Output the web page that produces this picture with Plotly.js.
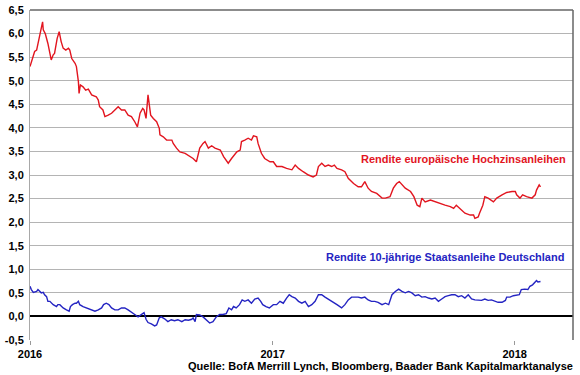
<!DOCTYPE html>
<html>
<head>
<meta charset="utf-8">
<script src="https://cdn.plot.ly/plotly-3.0.1.min.js"></script>
<style>html,body{margin:0;padding:0;background:#fff}#chart{width:580px;height:375px}</style>
</head>
<body>
<div id="chart"></div>
<script>
// Rendite europäische Hochzinsanleihen (%)
const hyDates = ['2016-01-01','2016-01-06','2016-01-08','2016-01-11','2016-01-13','2016-01-16','2016-01-20','2016-01-21','2016-01-24','2016-01-28','2016-01-31','2016-02-02','2016-02-05','2016-02-07','2016-02-11','2016-02-14','2016-02-17','2016-02-20','2016-02-24','2016-02-28','2016-03-01','2016-03-04','2016-03-09','2016-03-11','2016-03-14','2016-03-15','2016-03-17','2016-03-21','2016-03-25','2016-03-29','2016-04-03','2016-04-10','2016-04-13','2016-04-15','2016-04-20','2016-04-23','2016-04-28','2016-05-03','2016-05-08','2016-05-13','2016-05-18','2016-05-23','2016-05-28','2016-06-02','2016-06-07','2016-06-11','2016-06-15','2016-06-19','2016-06-21','2016-06-24','2016-06-27','2016-07-01','2016-07-05','2016-07-10','2016-07-14','2016-07-15','2016-07-20','2016-07-25','2016-08-02','2016-08-04','2016-08-09','2016-08-14','2016-08-22','2016-08-29','2016-09-03','2016-09-08','2016-09-13','2016-09-18','2016-09-21','2016-09-26','2016-10-01','2016-10-06','2016-10-14','2016-10-19','2016-10-26','2016-10-31','2016-11-08','2016-11-13','2016-11-15','2016-11-20','2016-11-25','2016-11-30','2016-12-03','2016-12-08','2016-12-10','2016-12-15','2016-12-20','2016-12-28','2017-01-02','2017-01-07','2017-01-15','2017-01-22','2017-01-30','2017-02-04','2017-02-09','2017-02-16','2017-02-24','2017-03-03','2017-03-08','2017-03-11','2017-03-16','2017-03-21','2017-03-26','2017-03-31','2017-04-04','2017-04-08','2017-04-15','2017-04-20','2017-04-25','2017-05-03','2017-05-10','2017-05-15','2017-05-20','2017-05-25','2017-05-30','2017-06-07','2017-06-15','2017-06-20','2017-06-27','2017-07-02','2017-07-07','2017-07-11','2017-07-15','2017-07-20','2017-07-28','2017-08-02','2017-08-07','2017-08-11','2017-08-14','2017-08-19','2017-08-27','2017-09-03','2017-09-11','2017-09-18','2017-09-26','2017-10-01','2017-10-05','2017-10-11','2017-10-18','2017-10-26','2017-10-31','2017-11-02','2017-11-07','2017-11-09','2017-11-14','2017-11-17','2017-11-22','2017-11-30','2017-12-05','2017-12-13','2017-12-20','2017-12-28','2018-01-02','2018-01-04','2018-01-09','2018-01-13','2018-01-19','2018-01-27','2018-02-01','2018-02-03','2018-02-07','2018-02-09'];
const hyYield = [5.30,5.51,5.62,5.65,5.79,6.00,6.25,6.08,6.00,5.79,5.55,5.44,5.55,5.58,5.90,6.04,5.83,5.69,5.65,5.69,5.65,5.47,5.37,5.30,4.98,4.73,4.91,4.87,4.80,4.82,4.70,4.66,4.59,4.45,4.38,4.24,4.27,4.31,4.38,4.45,4.38,4.38,4.27,4.24,4.13,4.02,4.31,4.41,4.38,4.20,4.70,4.27,4.20,4.13,3.99,3.85,3.81,3.74,3.74,3.67,3.57,3.49,3.46,3.39,3.35,3.28,3.57,3.67,3.71,3.57,3.62,3.57,3.53,3.39,3.25,3.35,3.49,3.53,3.71,3.74,3.78,3.74,3.83,3.81,3.67,3.46,3.35,3.28,3.28,3.18,3.18,3.14,3.11,3.21,3.14,3.07,3.00,2.96,3.00,3.18,3.25,3.18,3.21,3.18,3.21,3.14,3.11,3.07,2.93,2.82,2.75,2.75,2.86,2.72,2.65,2.61,2.51,2.51,2.54,2.72,2.82,2.86,2.79,2.72,2.65,2.54,2.36,2.33,2.51,2.43,2.47,2.43,2.40,2.36,2.33,2.29,2.36,2.29,2.19,2.15,2.15,2.08,2.11,2.19,2.36,2.54,2.51,2.43,2.51,2.58,2.63,2.65,2.65,2.58,2.51,2.58,2.54,2.51,2.58,2.68,2.79,2.75];

// Rendite 10-jährige Staatsanleihe Deutschland (%)
const bundDates = ['2016-01-01','2016-01-03','2016-01-06','2016-01-11','2016-01-13','2016-01-16','2016-01-18','2016-01-21','2016-01-23','2016-01-26','2016-01-28','2016-01-31','2016-02-05','2016-02-10','2016-02-12','2016-02-15','2016-02-20','2016-02-25','2016-02-29','2016-03-02','2016-03-05','2016-03-09','2016-03-11','2016-03-14','2016-03-16','2016-03-21','2016-03-26','2016-04-03','2016-04-08','2016-04-13','2016-04-18','2016-04-21','2016-04-25','2016-04-29','2016-05-03','2016-05-08','2016-05-13','2016-05-18','2016-05-23','2016-05-28','2016-06-02','2016-06-07','2016-06-12','2016-06-17','2016-06-21','2016-06-24','2016-06-27','2016-07-02','2016-07-07','2016-07-10','2016-07-14','2016-07-17','2016-07-22','2016-07-27','2016-08-01','2016-08-06','2016-08-11','2016-08-17','2016-08-22','2016-08-27','2016-08-29','2016-09-01','2016-09-03','2016-09-06','2016-09-08','2016-09-13','2016-09-18','2016-09-23','2016-09-28','2016-10-03','2016-10-08','2016-10-13','2016-10-18','2016-10-23','2016-10-27','2016-10-31','2016-11-03','2016-11-07','2016-11-12','2016-11-16','2016-11-20','2016-11-25','2016-11-30','2016-12-05','2016-12-10','2016-12-14','2016-12-17','2016-12-22','2016-12-27','2017-01-02','2017-01-07','2017-01-12','2017-01-17','2017-01-22','2017-01-26','2017-01-30','2017-02-04','2017-02-09','2017-02-14','2017-02-19','2017-02-24','2017-03-01','2017-03-06','2017-03-11','2017-03-16','2017-03-21','2017-03-26','2017-03-31','2017-04-08','2017-04-15','2017-04-20','2017-04-25','2017-04-30','2017-05-05','2017-05-10','2017-05-15','2017-05-20','2017-05-25','2017-05-30','2017-06-04','2017-06-09','2017-06-15','2017-06-20','2017-06-25','2017-06-30','2017-07-05','2017-07-10','2017-07-15','2017-07-20','2017-07-25','2017-07-30','2017-08-04','2017-08-09','2017-08-14','2017-08-19','2017-08-24','2017-08-29','2017-09-03','2017-09-08','2017-09-13','2017-09-18','2017-09-23','2017-09-28','2017-10-03','2017-10-08','2017-10-13','2017-10-18','2017-10-23','2017-10-28','2017-11-02','2017-11-07','2017-11-12','2017-11-17','2017-11-22','2017-11-27','2017-12-02','2017-12-07','2017-12-13','2017-12-18','2017-12-20','2017-12-25','2017-12-30','2018-01-04','2018-01-08','2018-01-11','2018-01-16','2018-01-21','2018-01-24','2018-01-28','2018-02-01','2018-02-03','2018-02-05','2018-02-09'];
const bundYield = [0.64,0.57,0.51,0.53,0.57,0.53,0.50,0.51,0.46,0.42,0.32,0.32,0.25,0.21,0.25,0.25,0.18,0.14,0.11,0.21,0.25,0.28,0.28,0.32,0.25,0.21,0.18,0.14,0.11,0.14,0.18,0.25,0.28,0.25,0.18,0.14,0.14,0.18,0.18,0.14,0.08,0.04,-0.01,0.04,0.08,-0.06,-0.13,-0.16,-0.20,-0.18,-0.03,-0.01,-0.05,-0.11,-0.07,-0.09,-0.07,-0.11,-0.07,-0.08,-0.07,-0.06,-0.03,-0.11,0.04,0.03,-0.01,-0.07,-0.14,-0.11,-0.01,0.04,0.04,0.06,0.18,0.14,0.21,0.18,0.25,0.35,0.32,0.35,0.28,0.37,0.39,0.32,0.25,0.21,0.18,0.25,0.25,0.32,0.28,0.39,0.46,0.42,0.39,0.32,0.28,0.32,0.21,0.25,0.32,0.46,0.46,0.41,0.37,0.32,0.25,0.18,0.25,0.35,0.41,0.41,0.41,0.39,0.41,0.35,0.32,0.32,0.30,0.25,0.28,0.25,0.46,0.53,0.58,0.53,0.50,0.53,0.50,0.44,0.46,0.41,0.42,0.39,0.37,0.39,0.32,0.37,0.42,0.44,0.46,0.46,0.42,0.44,0.39,0.46,0.37,0.35,0.35,0.34,0.37,0.34,0.35,0.32,0.30,0.30,0.34,0.41,0.41,0.44,0.46,0.46,0.57,0.58,0.57,0.64,0.67,0.74,0.76,0.73,0.74];

const seriesNames = ['Rendite europäische Hochzinsanleihen', 'Rendite 10-jährige Staatsanleihe Deutschland'];
const xTickVals = ['2016-01-01', '2017-01-01', '2018-01-01'];
const xTickText = ['2016', '2017', '2018'];
const yTickVals = [-0.5, 0, 0.5, 1, 1.5, 2, 2.5, 3, 3.5, 4, 4.5, 5, 5.5, 6, 6.5];
const yTickText = ['-0,5', '0,0', '0,5', '1,0', '1,5', '2,0', '2,5', '3,0', '3,5', '4,0', '4,5', '5,0', '5,5', '6,0', '6,5'];
const sourceText = 'Quelle: BofA Merrill Lynch, Bloomberg, Baader Bank Kapitalmarktanalyse';

const RED = '#e2151f';
const BLUE = '#2424c2';
const FONT = 'Liberation Sans, Arial, sans-serif';

const traces = [
  {x: hyDates, y: hyYield, type: 'scatter', mode: 'lines', name: seriesNames[0],
   line: {color: RED, width: 1.4}},
  {x: bundDates, y: bundYield, type: 'scatter', mode: 'lines', name: seriesNames[1],
   line: {color: BLUE, width: 1.4}}
];

const layout = {
  width: 580, height: 375,
  margin: {l: 30, r: 7, t: 10, b: 35},
  paper_bgcolor: '#ffffff', plot_bgcolor: '#ffffff',
  showlegend: false,
  font: {family: FONT, size: 11, color: '#000'},
  xaxis: {
    type: 'date', range: ['2016-01-01', '2018-03-30'],
    tickvals: xTickVals, ticktext: xTickText,
    ticks: 'outside', ticklen: 4, tickcolor: '#999', tickwidth: 1,
    showgrid: false, zeroline: false, showline: false,
    tickfont: {family: FONT, size: 11, weight: 'bold', color: '#000'}
  },
  yaxis: {
    range: [-0.5, 6.5], tickvals: yTickVals, ticktext: yTickText,
    showgrid: true, gridcolor: '#b4b4b4', gridwidth: 1,
    zeroline: true, zerolinecolor: '#000', zerolinewidth: 2,
    showline: true, linecolor: '#a8a8a8', linewidth: 1,
    ticks: '', ticklabelstandoff: 3,
    tickfont: {family: FONT, size: 11, weight: 'bold', color: '#000'}
  },
  shapes: [
    {type: 'line', xref: 'paper', yref: 'paper', x0: 0, x1: 1, y0: 1, y1: 1, line: {color: '#666', width: 1.5}},
    {type: 'line', xref: 'paper', yref: 'paper', x0: 1, x1: 1, y0: 0, y1: 1, line: {color: '#666', width: 1.5}}
  ],
  annotations: [
    {text: seriesNames[0], xref: 'paper', yref: 'y', x: 0.99, y: 3.35, xanchor: 'right', yanchor: 'middle',
     showarrow: false, font: {family: FONT, size: 11, weight: 'bold', color: RED}},
    {text: seriesNames[1], xref: 'paper', yref: 'y', x: 0.987, y: 1.27, xanchor: 'right', yanchor: 'middle',
     showarrow: false, font: {family: FONT, size: 11, weight: 'bold', color: BLUE}},
    {text: sourceText, xref: 'paper', yref: 'paper', x: 1.004, y: -0.055, xanchor: 'right', yanchor: 'top',
     showarrow: false, font: {family: FONT, size: 11, weight: 'bold', color: '#000'}}
  ]
};

Plotly.newPlot('chart', traces, layout, {displayModeBar: false, staticPlot: true});
</script>
</body>
</html>
